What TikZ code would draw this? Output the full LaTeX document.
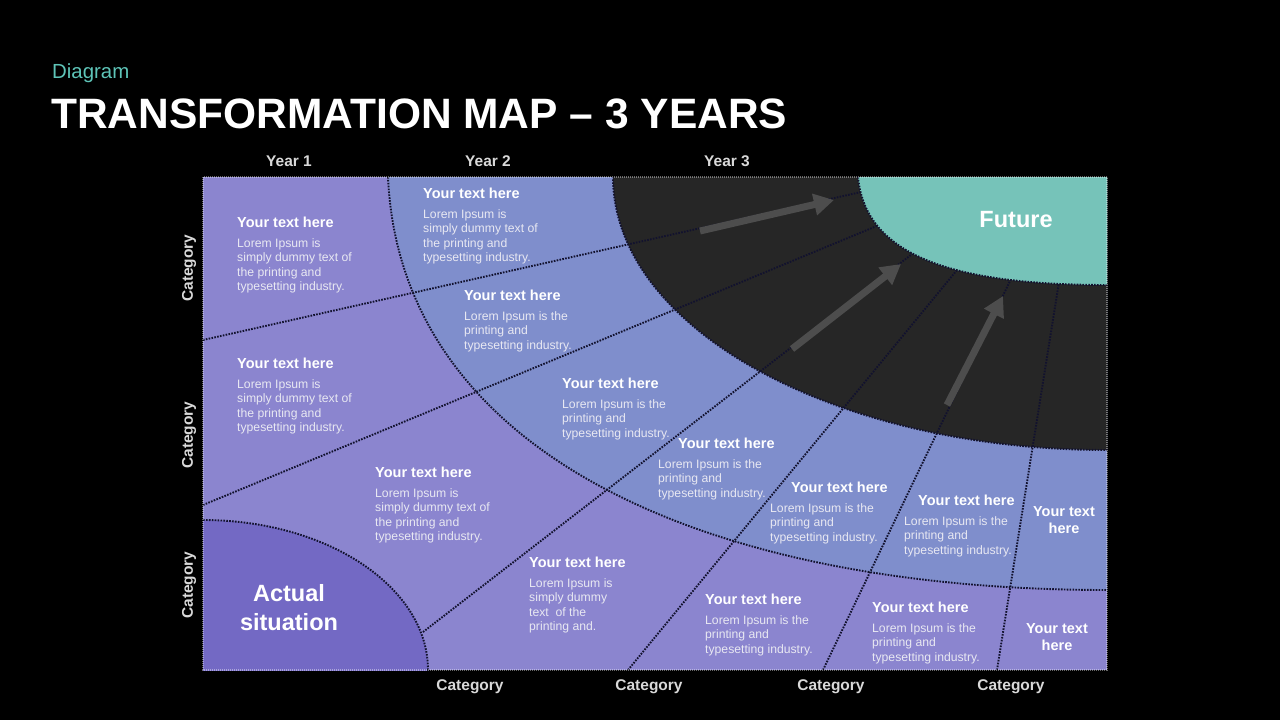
\documentclass[tikz,border=0pt]{standalone}
\usepackage{fontspec}
\setmainfont{Liberation Sans}
\usetikzlibrary{arrows.meta,positioning}
\definecolor{lilac}{HTML}{8B85CF}
\definecolor{band}{HTML}{7F8ECC}
\definecolor{actual}{HTML}{7369C4}
\definecolor{darkband}{HTML}{262626}
\definecolor{future}{HTML}{76C3B9}
\definecolor{ink}{HTML}{12122E}
\definecolor{tealtxt}{HTML}{5EC4B8}
\definecolor{soft}{HTML}{E8E8F2}
\definecolor{arrowgray}{HTML}{4D4D4D}

\begin{document}
\begin{tikzpicture}[x=1pt, y=-1pt,
  grid/.style={dash pattern=on 1.6pt off 1.3pt, line width=1.9pt, draw=ink},
  edge/.style={dash pattern=on 1pt off 1pt, line width=1.2pt, draw=white, draw opacity=.4},
  head/.style={inner sep=0, anchor=west, text=white, font=\bfseries\fontsize{14.5}{17}\selectfont},
  body/.style={inner sep=0, align=left, text=soft, font=\fontsize{12.2}{14.3}\selectfont},
  cell/.style={inner sep=0, align=center, text=white, font=\bfseries\fontsize{14.5}{16.5}\selectfont},
  axis/.style={inner sep=0, text=white!85!black, font=\bfseries\fontsize{15.5}{18}\selectfont},
  big/.style={inner sep=0, align=center, text=white, font=\bfseries\fontsize{23.5}{29}\selectfont},
  arr/.style={line width=7pt, draw=arrowgray, -{Triangle[width=21pt,length=20pt]}}]
\useasboundingbox (0,0) rectangle (1280,720);
\fill[black] (0,0) rectangle (1280,720);

\node[inner sep=0, anchor=west, text=tealtxt, font=\fontsize{20.4}{24}\selectfont] (sub) at (52,73) {Diagram};
\node[inner sep=0, anchor=west, text=white, font=\bfseries\fontsize{42.5}{48}\selectfont] (title) at (51,114) {TRANSFORMATION MAP -- 3 YEARS};

\fill[lilac] (203,177) rectangle (1107,670);
\begin{scope}
\clip (203,177) rectangle (1107,670);
\fill[band] (388,177) .. controls (400,450) and (700,590) .. (1107,590) -- (1107,177) -- cycle;
\fill[darkband] (1107,177) ellipse [x radius=494pt, y radius=273pt];
\foreach \xa/\ya/\xb/\yb in {203/340/870/190, 203/505/884/223, 423/632/916/251, 628/670/957/270, 823/670/1010/281, 997/670/1059/282}
{
  \draw[grid] (\xa,\ya) -- (\xb,\yb);
}
\fill[actual] (203,670) ellipse [x radius=225pt, y radius=150pt];
\draw[grid] (203,670) ellipse [x radius=225pt, y radius=150pt];
\draw[grid] (1107,177) ellipse [x radius=494pt, y radius=273pt];
\draw[grid] (388,177) .. controls (400,450) and (700,590) .. (1107,590);
\fill[future] (858,177) .. controls (865,250) and (940,285) .. (1107,285) -- (1107,177) -- cycle;
\draw[grid] (858,177) .. controls (865,250) and (940,285) .. (1107,285);
\end{scope}
\draw[edge] (203,177) rectangle (1107,670);

\draw[arr] (700,231) -- (834,200);
\draw[arr] (792,349) -- (901,264);
\draw[arr] (947,405) -- (1003,296);

\node[big] (fut) at (1016,220) {Future};
\node[big] (act) at (289,608) {Actual\\situation};

\foreach \n/\x/\y in {1/237/222, 2/423/193, 4/237/363, 6/375/472}
{
  \node[head] (h\n) at (\x,\y) {Your text here};
  \node[body, below right=11pt and 0pt of h\n.south west] (b\n) {Lorem Ipsum is\\simply dummy text of\\the printing and\\typesetting industry.};
}
\foreach \n/\x/\y/\d in {3/464/295/0, 5/562/383/0, 7/678/443/-20, 8/791/487/-21, 9/918/500/-14, 12/705/599/0, 13/872/607/0}
{
  \node[head] (h\n) at (\x,\y) {Your text here};
  \node[body, below right=11pt and \d pt of h\n.south west] (b\n) {Lorem Ipsum is the\\printing and\\typesetting industry.};
}
\node[head] (h11) at (529,562) {Your text here};
\node[body, below right=11pt and 0pt of h11.south west] (b11) {Lorem Ipsum is\\simply dummy\\text~ of the\\printing and.};
\node[cell] (h10) at (1064,520) {Your text\\here};
\node[cell] (h14) at (1057,637) {Your text\\here};

\foreach \t/\x in {1/289, 2/488, 3/727}
  \node[axis] (year\t) at (\x,161) {Year \t};
\foreach \i/\x in {1/470, 2/649, 3/831, 4/1011}
  \node[axis] (catb\i) at (\x,687) {Category};
\foreach \i/\y in {1/268, 2/435, 3/585}
  \node[axis, rotate=90] (catl\i) at (189,\y) {Category};
\end{tikzpicture}
\end{document}
